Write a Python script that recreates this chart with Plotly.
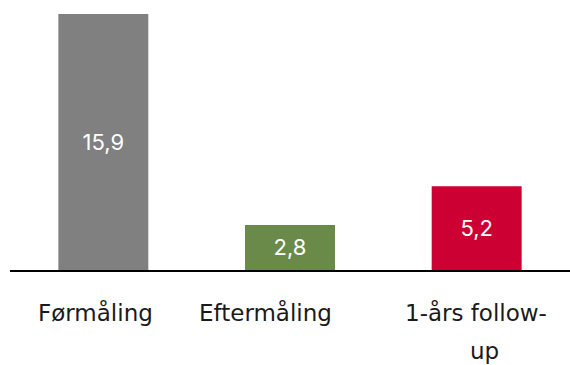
import plotly.graph_objects as go

# Categories and values
categories = ["Førmåling", "Eftermåling", "1-års follow-up"]
values = [15.9, 2.8, 5.2]
value_labels = ["15,9", "2,8", "5,2"]
bar_colors = ["#808080", "#6a8a4a", "#cc0033"]

# Category label lines (wrapped text) with per-line horizontal nudges in px
label_lines = [
    [("Førmåling", -8)],
    [("Eftermåling", -25)],
    [("1-års follow-", -1), ("up", 8)],
]

FONT = "DejaVu Sans, sans-serif"
LABEL_SIZE = 23
LINE_GAP = 39

fig = go.Figure(
    go.Bar(
        x=categories,
        y=values,
        marker=dict(color=bar_colors, line=dict(width=0)),
        text=value_labels,
        textposition="inside",
        insidetextanchor="middle",
        textfont=dict(family="Inter, sans-serif", size=22, color="white"),
        constraintext="none",
        hoverinfo="skip",
    )
)

for cat, lines in zip(categories, label_lines):
    for i, (txt, dx) in enumerate(lines):
        fig.add_annotation(
            x=cat, xref="x",
            y=0, yref="paper",
            text=txt,
            showarrow=False,
            xanchor="center",
            yanchor="middle",
            xshift=dx,
            yshift=-42 - i * LINE_GAP,
            font=dict(family=FONT, size=LABEL_SIZE, color="#1a1a1a"),
        )

fig.update_layout(
    width=570,
    height=365,
    margin=dict(l=10, r=0, t=0, b=95),
    paper_bgcolor="white",
    plot_bgcolor="white",
    bargap=0.518,
    showlegend=False,
    xaxis=dict(
        showticklabels=False,
        showline=True,
        linecolor="black",
        linewidth=2,
        ticks="",
    ),
    yaxis=dict(
        range=[0, 16.77],
        visible=False,
        showgrid=False,
    ),
)

fig.write_html("out.html")
